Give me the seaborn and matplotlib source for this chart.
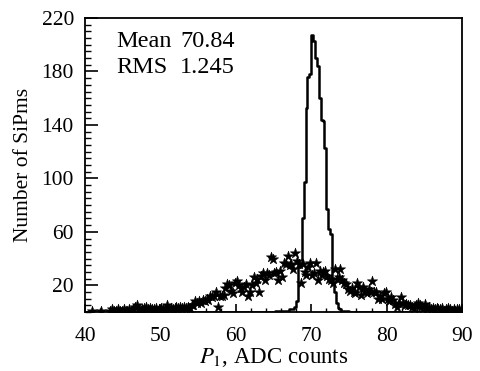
import numpy as np
import pandas as pd
import matplotlib
matplotlib.use("Agg")
import matplotlib.pyplot as plt
import seaborn as sns
from matplotlib.ticker import MultipleLocator

sns.set_theme(style="ticks")
plt.rcParams['font.family'] = ['Liberation Serif', 'DejaVu Serif']
plt.rcParams['mathtext.fontset'] = 'stix'
plt.rcParams['text.color'] = 'black'
plt.rcParams['axes.labelcolor'] = 'black'

# ---- data ----
x_min, x_max, bin_width = 40.0, 90.0, 0.25

# narrow distribution (solid step histogram), counts from peak_start on
peak_start = 65.25
peak_counts = [1, 1, 1,
               1, 1, 1, 1,
               2, 2, 2, 4,
               8, 34, 36, 70,
               97, 153, 176, 178,
               207, 203, 190, 184,
               160, 144, 143, 123,
               77, 62, 58, 22,
               15, 7, 3, 2,
               1, 1, 1, 1]

# broad distribution (star markers), one value per 0.25 bin from 40 to 90
star_counts = [
    0, 0, 0, 1,      # 40
    0, 0, 0, 0,      # 41
    1, 0, 0, 0,      # 42
    0, 1, 2, 1,      # 43
    1, 2, 1, 1,      # 44
    2, 1, 1, 2,      # 45
    1, 2, 4, 5,      # 46
    2, 1, 2, 3,      # 47
    4, 2, 3, 2,      # 48
    2, 3, 1, 2,      # 49
    3, 2, 2, 5,      # 50
    2, 3, 2, 3,      # 51
    4, 3, 4, 3,      # 52
    4, 3, 4, 3,      # 53
    5, 5, 8, 7,      # 54
    8, 7, 9, 8,      # 55
    10, 9, 12, 11,   # 56
    12, 15, 4, 12,   # 57
    12, 13, 18, 21,  # 58
    20, 16, 14, 22,  # 59
    23, 20, 18, 15,  # 60
    19, 21, 12, 15,  # 61
    20, 26, 22, 25,  # 62
    15, 27, 29, 24,  # 63
    29, 28, 41, 40,  # 64
    29, 30, 24, 31,  # 65
    26, 37, 36, 42,  # 66
    35, 36, 32, 44,  # 67
    38, 36, 22, 36,  # 68
    30, 28, 34, 37,  # 69
    28, 29, 37, 24,  # 70
    31, 28, 30, 31,  # 71
    27, 25, 24, 22,  # 72
    32, 25, 26, 32,  # 73
    24, 22, 21, 17,  # 74
    16, 18, 15, 14,  # 75
    22, 19, 13, 19,  # 76
    16, 14, 17, 15,  # 77
    23, 15, 15, 10,  # 78
    12, 10, 14, 15,  # 79
    10, 8, 11, 9,    # 80
    6, 4, 7, 11,     # 81
    7, 5, 6, 5,      # 82
    5, 4, 3, 5,      # 83
    7, 5, 4, 3,      # 84
    6, 3, 4, 2,      # 85
    3, 2, 3, 2,      # 86
    2, 3, 1, 2,      # 87
    3, 2, 1, 2,      # 88
    1, 2, 2, 1,      # 89
]

x_ticks = [40, 50, 60, 70, 80, 90]
y_ticks = [20, 60, 100, 140, 180, 220]
stat_names = ["Mean", "RMS"]
stat_values = ["70.84", "1.245"]
x_label = r"$P_1$, ADC counts"
y_label = "Number of SiPms"

# ---- build tables ----
edges = np.arange(x_min, x_max + bin_width / 2, bin_width)
centers = edges[:-1] + bin_width / 2
peak_full = np.zeros(len(centers))
i0 = int(round((peak_start - x_min) / bin_width))
peak_full[i0:i0 + len(peak_counts)] = peak_counts
# step outline: value at each left edge, held to the next edge
step_df = pd.DataFrame({"x": edges, "y": np.append(peak_full, 0.0)})
star_df = pd.DataFrame({"x": centers, "y": star_counts})
star_df = star_df[star_df["y"] > 0]

# ---- figure ----
fig = plt.figure(figsize=(4.81, 3.71), dpi=100)
ax = fig.add_axes([85 / 481, 1 - 312 / 371, 377 / 481, 294 / 371])

sns.lineplot(data=step_df, x="x", y="y", drawstyle="steps-post", estimator=None,
             sort=False, color="black", linewidth=1.8, ax=ax)
sns.scatterplot(data=star_df, x="x", y="y", marker="*", s=60, color="black",
                edgecolor="black", linewidth=0.4, ax=ax, zorder=3)

ax.set_xlim(x_min, x_max)
ax.set_ylim(0, 220)
ax.set_xticks(x_ticks)
ax.set_yticks(y_ticks)
ax.xaxis.set_minor_locator(MultipleLocator(2))
ax.yaxis.set_minor_locator(MultipleLocator(5))
ax.tick_params(which="both", direction="in", top=False, right=False,
               bottom=True, left=True, colors="black")
ax.tick_params(axis="x", which="major", length=6, width=1.2, pad=10.5, labelsize=15.5)
ax.tick_params(axis="x", which="minor", length=3, width=1.0)
ax.tick_params(axis="y", which="major", length=9, width=1.2, pad=8, labelsize=15.5)
ax.tick_params(axis="y", which="minor", length=4.5, width=1.0)
for sp in ax.spines.values():
    sp.set_visible(True)
    sp.set_color("black")
    sp.set_linewidth(1.3)

ax.set_xlabel(x_label, fontsize=16.5, labelpad=0, color="black")
ax.set_ylabel(y_label, fontsize=15.5, labelpad=6, color="black")

for i, (n, v) in enumerate(zip(stat_names, stat_values)):
    yy = 0.902 - i * 0.09
    ax.text(0.084, yy, n, transform=ax.transAxes, fontsize=17.5, va="baseline", color="black")
    ax.text(0.252, yy, v, transform=ax.transAxes, fontsize=17.5, va="baseline", color="black")

fig.savefig("out.png", dpi=100, facecolor="white")
